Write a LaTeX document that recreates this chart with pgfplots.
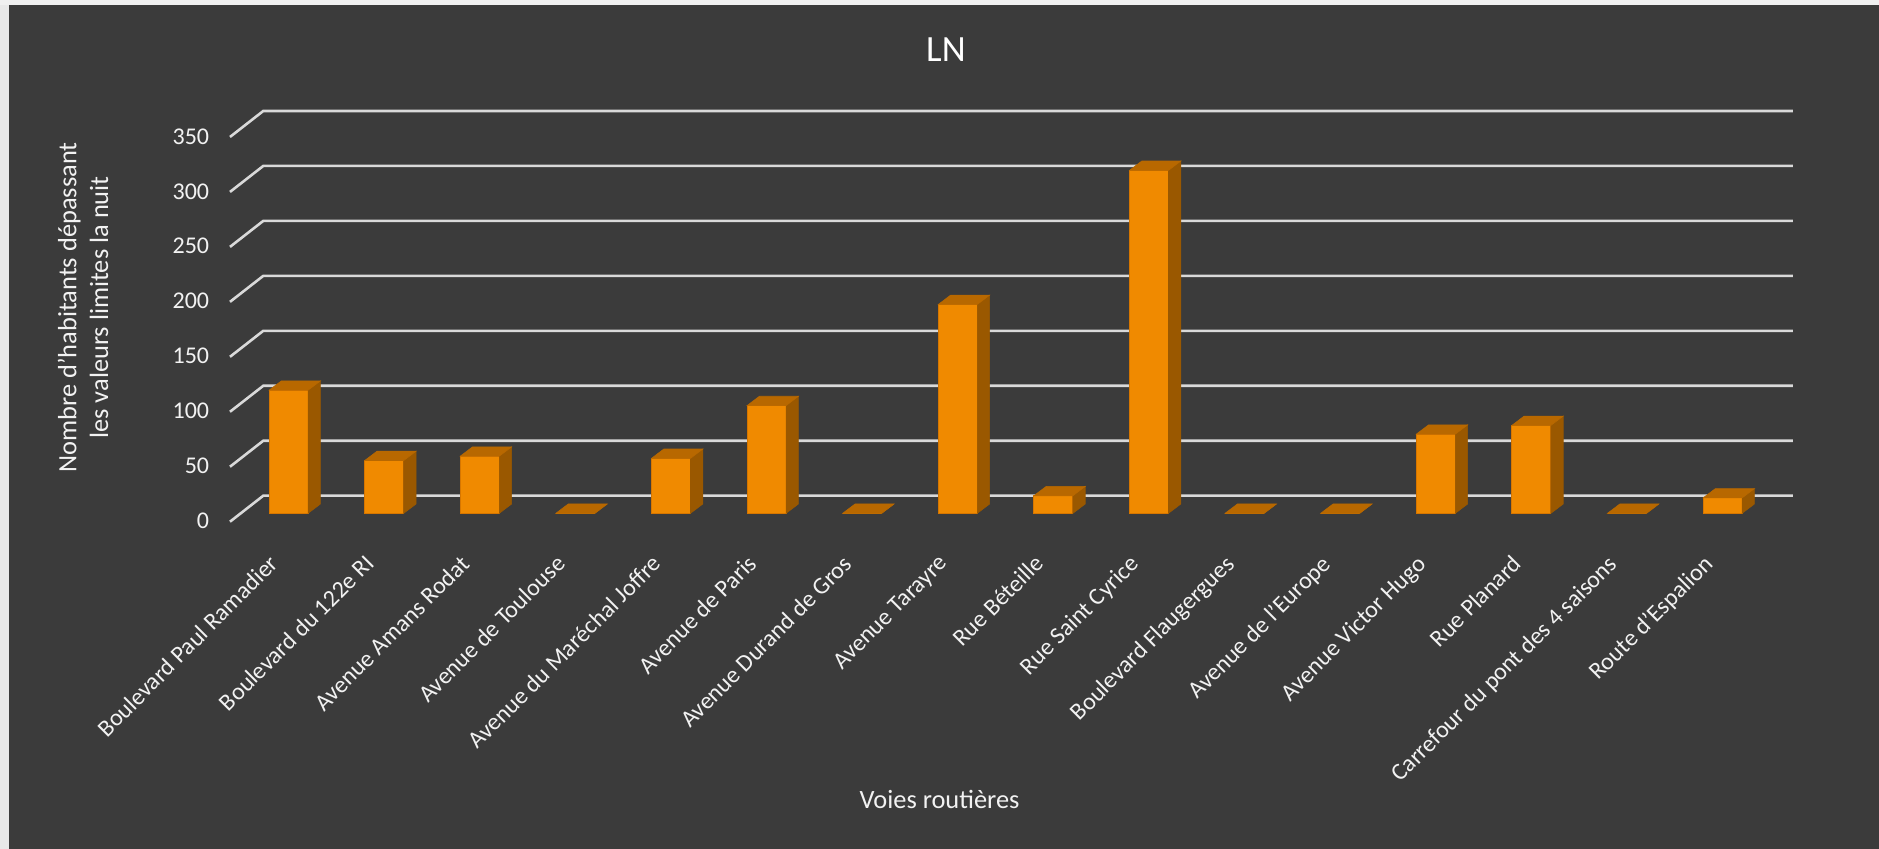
\documentclass[border=0pt]{standalone}
\usepackage{fontspec}
\setmainfont{Carlito}
\usepackage{pgfplots}
\pgfplotsset{compat=1.18}
\definecolor{bgcol}{RGB}{59,59,59}
\definecolor{gridcol}{RGB}{217,217,217}
\definecolor{barfront}{RGB}{240,138,0}
\definecolor{baredge}{RGB}{214,118,0}
\definecolor{bartopc}{RGB}{184,104,0}
\definecolor{barsidec}{RGB}{154,88,0}
\definecolor{txt}{RGB}{242,242,242}
% top face of a bar (origin = front top centre of the bar)
\pgfdeclareplotmark{bartop}{%
  \pgfpathmoveto{\pgfqpoint{-9.75pt}{0pt}}%
  \pgfpathlineto{\pgfqpoint{9.75pt}{0pt}}%
  \pgfpathlineto{\pgfqpoint{15.9pt}{4.65pt}}%
  \pgfpathlineto{\pgfqpoint{-3.6pt}{4.65pt}}%
  \pgfpathclose
  \pgfusepathqfillstroke
}
% side face of a bar, height taken from the data value
\pgfdeclareplotmark{barside}{%
  \pgfpathmoveto{\pgfqpoint{9.75pt}{0pt}}%
  \pgfpathlineto{\pgfqpoint{15.9pt}{4.65pt}}%
  \pgfpathlineto{\pgfpoint{15.9pt}{4.65pt-\rawy*0.5496pt}}%
  \pgfpathlineto{\pgfpoint{9.75pt}{-\rawy*0.5496pt}}%
  \pgfpathclose
  \pgfusepathqfillstroke
}
\pgfplotstableread{
x y
1 112
2 48
3 52
4 0
5 50
6 98
7 0
8 190
9 16
10 312
11 0
12 0
13 72
14 80
15 0
16 14
}\ln
\begin{document}
\begin{tikzpicture}
\useasboundingbox (0,0) rectangle (939.5pt,424.5pt);
\fill[bgcol] (0,0) rectangle (939.5pt,424.5pt);
\fill[gray!18] (0,0) rectangle (4.5pt,424.5pt);
\fill[gray!12] (0,422pt) rectangle (939.5pt,424.5pt);
\begin{axis}[
  at={(120.4pt,167.85pt)}, anchor=south west,
  x=47.8pt, y=0.5496pt,
  xmin=0.5, xmax=16.5, ymin=0, ymax=350,
  enlargelimits=false,
  clip=false,
  axis line style={draw=none},
  major tick length=0pt,
  xtick={1,...,16},
  xticklabels={Boulevard Paul Ramadier,Boulevard du 122e RI,Avenue Amans Rodat,Avenue de Toulouse,Avenue du Maréchal Joffre,Avenue de Paris,Avenue Durand de Gros,Avenue Tarayre,Rue Béteille,Rue Saint Cyrice,Boulevard Flaugergues,Avenue de l'Europe,Avenue Victor Hugo,Rue Planard,Carrefour du pont des 4 saisons,Route d'Espalion},
  ytick={0,50,...,350},
  /pgf/number format/assume math mode=true,
  tick label style={font=\fontsize{12}{14}\selectfont, text=txt},
  xticklabel style={rotate=45, anchor=north east, xshift=-18pt, yshift=-3.5pt},
  yticklabel style={anchor=east, xshift=-12.3pt, yshift=-3.9pt},
  title={LN},
  every axis title/.style={at={(axis description cs:0.461,1.206)}, anchor=center, font=\fontsize{18.5}{22}\selectfont, text=white},
  xlabel={Voies routières},
  every axis x label/.style={at={(axis description cs:0.4568,-0.745)}, anchor=center, font=\fontsize{13.2}{16}\selectfont, text=txt},
  ylabel={Nombre d'habitants dépassant\\les valeurs limites la nuit},
  every axis y label/.style={at={(axis description cs:-0.1032,0.535)}, rotate=90, anchor=center, align=center, font=\fontsize{13.2}{15.9}\selectfont, text=txt},
]
\pgfplotsinvokeforeach{0,50,...,350}{
  \draw[gridcol, line width=1.3pt] ([shift={(-5.4pt,-4.2pt)}]axis cs:0.5,#1) -- ([shift={(11.25pt,8.8pt)}]axis cs:0.5,#1) -- ([shift={(11.25pt,8.8pt)}]axis cs:16.5,#1);
}
\addplot[ybar, bar width=19.5pt, fill=barfront, draw=baredge, line width=0.5pt] table[x=x,y=y] {\ln};
\addplot[only marks, mark=barside, visualization depends on={rawy \as \rawy}, mark options={fill=barsidec, draw=barsidec, line width=0.3pt}] table[x=x,y=y] {\ln};
\addplot[only marks, mark=bartop, mark options={fill=bartopc, draw=bartopc, line width=0.3pt}] table[x=x,y=y] {\ln};
\end{axis}
\end{tikzpicture}
\end{document}
